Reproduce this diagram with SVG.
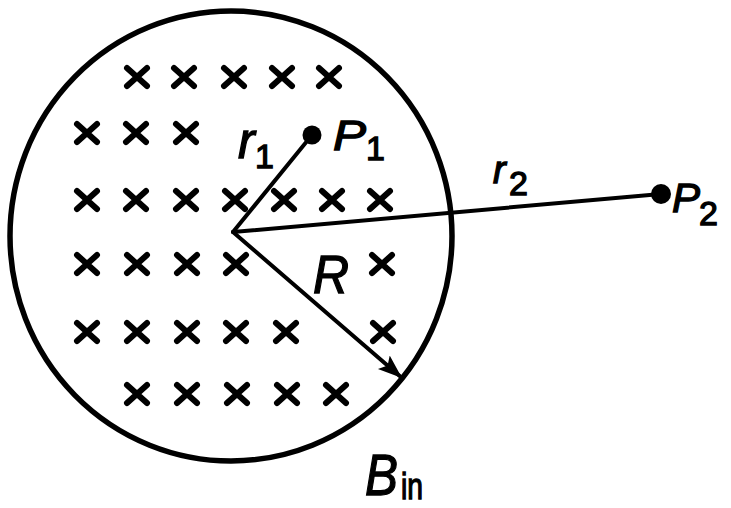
<svg xmlns="http://www.w3.org/2000/svg" xmlns:xlink="http://www.w3.org/1999/xlink" width="731" height="508" viewBox="0 0 731 508">
  <style>
    .bd { fill: none; stroke: #000; stroke-width: 5.5; }
    .ln { fill: none; stroke: #000; stroke-width: 4; stroke-linecap: round; }
    .xm { fill: none; stroke: #000; stroke-width: 6; stroke-linecap: round; }
    .dot { fill: #000; }
    .t { font-family: "Liberation Sans", Arial, Helvetica, sans-serif; fill: #000; stroke: #000; stroke-width: 1.3; }
    .it { font-style: italic; }
  </style>
  <defs>
    <path id="x" class="xm" d="M-10,-9 L10,9 M-10,9 L10,-9"/>
    <marker id="arr" markerUnits="userSpaceOnUse" markerWidth="30" markerHeight="22" refX="24" refY="9" orient="auto">
      <path d="M0,0 L24,9 L0,18 L5,9 Z" fill="#000"/>
    </marker>
  </defs>
  <rect width="731" height="508" fill="#fff"/>

  <g id="region">
    <ellipse class="bd" cx="231" cy="236" rx="221" ry="225"/>
    <g id="field">
      <use xlink:href="#x" x="137" y="77"/><use xlink:href="#x" x="184" y="77"/><use xlink:href="#x" x="234" y="77"/><use xlink:href="#x" x="282" y="77"/><use xlink:href="#x" x="329" y="77"/>
      <use xlink:href="#x" x="87" y="133"/><use xlink:href="#x" x="136" y="133"/><use xlink:href="#x" x="186" y="133"/>
      <use xlink:href="#x" x="87" y="200"/><use xlink:href="#x" x="136" y="200"/><use xlink:href="#x" x="186" y="200"/><use xlink:href="#x" x="235" y="200"/><use xlink:href="#x" x="284" y="200"/><use xlink:href="#x" x="332" y="200"/><use xlink:href="#x" x="380" y="200"/>
      <use xlink:href="#x" x="87" y="264"/><use xlink:href="#x" x="137" y="264"/><use xlink:href="#x" x="187" y="264"/><use xlink:href="#x" x="236" y="264"/><use xlink:href="#x" x="382" y="264"/>
      <use xlink:href="#x" x="87" y="332"/><use xlink:href="#x" x="137" y="332"/><use xlink:href="#x" x="187" y="332"/><use xlink:href="#x" x="236" y="332"/><use xlink:href="#x" x="286" y="332"/><use xlink:href="#x" x="383" y="332"/>
      <use xlink:href="#x" x="137" y="394"/><use xlink:href="#x" x="187" y="394"/><use xlink:href="#x" x="237" y="394"/><use xlink:href="#x" x="287" y="394"/><use xlink:href="#x" x="336" y="394"/>
    </g>
    <text class="t it" x="365" y="495" font-size="58" textLength="33" lengthAdjust="spacingAndGlyphs">B</text>
    <text class="t" x="401" y="499" font-size="36" textLength="22" lengthAdjust="spacingAndGlyphs">in</text>
  </g>

  <g id="connectors">
    <line class="ln" x1="233" y1="232" x2="312" y2="135"/>
    <line class="ln" x1="233" y1="232" x2="661" y2="194"/>
    <line class="ln" x1="233" y1="232" x2="402" y2="378" marker-end="url(#arr)"/>
    <text class="t it" x="238" y="158" font-size="50">r</text>
    <text class="t" x="255" y="168" font-size="34">1</text>
    <text class="t it" x="493" y="183" font-size="38">r</text>
    <text class="t" x="509" y="195" font-size="34">2</text>
    <text class="t it" x="313" y="293" font-size="54" textLength="36" lengthAdjust="spacingAndGlyphs">R</text>
  </g>

  <g id="P1">
    <circle class="dot" cx="312" cy="135" r="9.5"/>
    <text class="t it" x="333" y="150" font-size="42" textLength="33" lengthAdjust="spacingAndGlyphs">P</text>
    <text class="t" x="366" y="160" font-size="34">1</text>
  </g>

  <g id="P2">
    <circle class="dot" cx="661" cy="194" r="10"/>
    <text class="t it" x="672" y="212" font-size="41" textLength="28" lengthAdjust="spacingAndGlyphs">P</text>
    <text class="t" x="699" y="225" font-size="34">2</text>
  </g>
</svg>
